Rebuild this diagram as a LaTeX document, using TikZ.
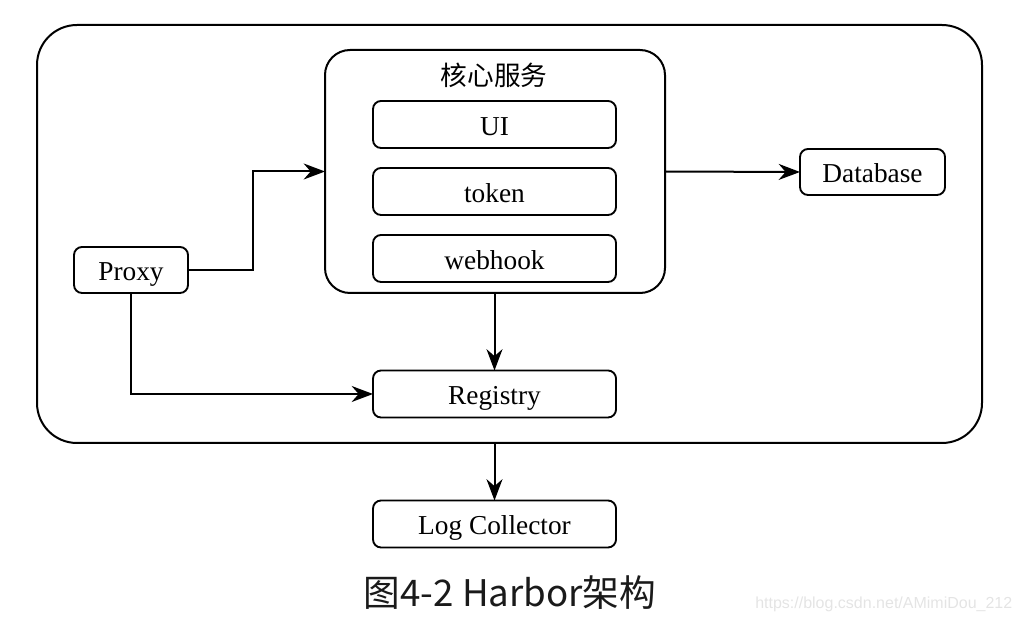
\documentclass[tikz,border=0pt]{standalone}
\usepackage{fontspec}
\setmainfont{Liberation Serif}
\newfontfamily\cjk{Noto Sans CJK SC}
\newfontfamily\wmfont{Liberation Sans}
\usetikzlibrary{arrows.meta,positioning,calc}
\definecolor{CapText}{RGB}{26,26,26}
\definecolor{MarkGray}{RGB}{228,228,228}

\begin{document}
\begin{tikzpicture}[
  x=0.75pt, y=-0.75pt,
  frame/.style={
    rectangle, draw=black, line width=1.5pt, rounded corners=30pt,
    minimum width=708.75pt, minimum height=313.5pt, outer sep=0pt
  },
  core/.style={
    rectangle, draw=black, line width=1.5pt, rounded corners=18.75pt,
    minimum width=255pt, minimum height=182.25pt, outer sep=0pt
  },
  svc/.style={
    rectangle, draw=black, line width=1.4pt, rounded corners=6pt,
    minimum width=182.25pt, minimum height=35.25pt, outer sep=0pt,
    text height=15.8pt, text depth=0pt,
    align=center, font=\fontsize{20.5}{24}\selectfont
  },
  side/.style={
    rectangle, draw=black, line width=1.4pt, rounded corners=6pt,
    minimum height=34.5pt, outer sep=0pt,
    text height=15.8pt, text depth=0pt,
    align=center, font=\fontsize{20.5}{24}\selectfont
  },
  arr/.style={-{Stealth[length=16pt,width=12pt]}, line width=1.5pt, black}
]
\useasboundingbox (0,0) rectangle (1029,623);

% ---- Boxes ----
\node[frame] (harbor) at (509.5,234) {};
\node[core]  (core)   at (495,171.5) {};
\node[font=\cjk\fontsize{20}{24}\selectfont] (title) at (494,75) {核心服务};

\node[svc] (ui)      at (494.5,124.5) {UI};
\node[svc] (token)   at (494.5,191.5) {token};
\node[svc] (webhook) at (494.5,258.5) {webhook};

\node[side, minimum width=85.5pt]  (proxy) at (131,270)   {Proxy};
\node[side, minimum width=108.75pt] (db)   at (872.5,172) {Database};
\node[svc] (reg) at (494.5,394) {Registry};
\node[svc] (log) at (494.5,524) {Log Collector};

% ---- Arrows ----
\coordinate (knee) at (253,270);
\draw[arr] (proxy.east) -- (knee) |- (core.west);
\draw[arr] (core.east) -- (db.west);
\draw[arr] (reg.north |- core.south) -- (reg.north);
\draw[arr] (proxy.south) |- (reg.west);
\draw[arr] (log.north |- harbor.south) -- (log.north);

% ---- Caption ----
\node[font=\cjk\fontsize{27.5}{33}\selectfont, text=CapText] (cap) at (510,593) {图4-2 Harbor架构};
\node[font=\wmfont\fontsize{12}{14}\selectfont, text=MarkGray, anchor=east] (mark) at (1017,604) {https://blog.csdn.net/AMimiDou\_212};

\end{tikzpicture}
\end{document}
